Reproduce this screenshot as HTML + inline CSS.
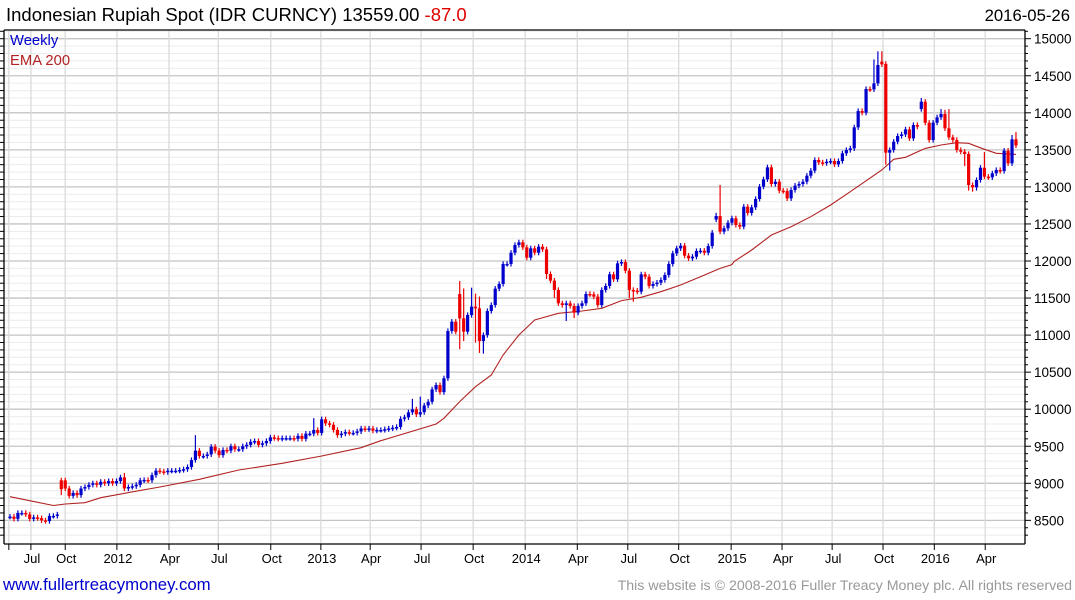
<!DOCTYPE html>
<html><head><meta charset="utf-8">
<style>
body{margin:0;background:#fff;width:1075px;height:600px;overflow:hidden;font-family:"Liberation Sans",sans-serif}
svg{display:block}
</style></head>
<body>
<svg id="chart" width="1075" height="600" xmlns="http://www.w3.org/2000/svg">
<text x="6" y="21" font-size="18.5" fill="#000">Indonesian Rupiah Spot (IDR CURNCY) 13559.00 <tspan fill="#e00000">-87.0</tspan></text>
<text x="1070" y="21" font-size="16.7" fill="#000" text-anchor="end">2016-05-26</text>
<g id="grid"></g>
<g id="marks"></g>
<g id="axes"></g>
<text x="10" y="45" font-size="14.8" fill="#0000cc">Weekly</text>
<text x="10" y="65" font-size="14.8" fill="#b22222">EMA 200</text>
<text x="3" y="590" font-size="16.8" fill="#0000cc">www.fullertreacymoney.com</text>
<text x="1072" y="590" font-size="14.2" fill="#999" text-anchor="end">This website is © 2008-2016 Fuller Treacy Money plc. All rights reserved</text>
</svg>
<script>
const closes=[8550,8520,8600,8600,8580,8520,8540,8530,8500,8490,8560,8560,8580,
8920,8930,8830,8870,8840,8930,8950,8980,9000,8980,9020,9000,9030,9000,9030,9080,8930,8950,8960,8980,9040,9045,9040,9110,9170,9160,9150,9170,9170,9170,9180,9190,9220,9314,9440,9368,9368,9390,9494,9440,9380,9450,9440,9500,9460,9460,9500,9520,9560,9570,9520,9540,9570,9620,9610,9600,9610,9610,9610,9600,9640,9600,9670,9670,9720,9680,9863,9809,9790,9720,9650,9670,9690,9680,9680,9700,9740,9730,9740,9710,9720,9720,9730,9740,9750,9760,9870,9890,9958,9998,9930,9960,10050,10100,10268,10326,
10230,10417,11055,11181,11046,11226,11046,11271,11384,11361,10919,11000,11325,11406,11627,11690,11960,11960,12112,12216,12252,12184,12045,12171,12112,12193,12157,11824,11735,11609,11429,11406,11429,11393,11303,11393,11429,11555,11550,11519,11406,11609,11663,11820,11753,11968,11986,11869,11609,11600,11586,11820,11788,11663,11690,11708,11744,11811,11960,12103,12171,12207,12072,12036,12058,12135,12139,12112,12202,12382,12607,12396,12441,12517,12576,12486,12463,12733,12648,12724,12837,13003,13102,13264,13039,13070,12949,12944,12845,12958,13017,13039,13070,13151,13219,13363,13331,13320,13340,13349,13304,13349,13453,13498,13520,13804,14024,14001,14321,14316,14397,14645,14654,13462,13498,13610,13687,13709,13776,13655,13835,13813,14150,13866,13633,13867,13939,13984,13790,13669,13633,13498,13475,13444,13025,12994,13093,13259,13138,13129,13183,13228,13214,13489,13318,13642,13559];
const openIdx=[13,14,114,179,221,222,231];
const openVals=[9040,9040,11555,12560,14690,14660,14050];
const highIdx=[13,29,47,77,79,102,104,114,115,117,118,119,180,179,219,220,221,231,232,236,237,238,247,254,255];
const highVals=[9060,9140,9650,9880,9900,10140,10170,11730,11630,11640,11560,11520,13026,12650,14720,14830,14830,14200,14180,14050,14040,14050,13470,13700,13740];
const lowIdx=[13,29,114,115,118,119,120,136,138,141,143,157,158,222,223,242,243,244,245];
const lowVals=[8840,8920,10810,10920,10900,10760,10750,11757,11500,11190,11230,11500,11450,13300,13220,13280,12950,12935,12950];
const emaWeeks=[0,5,11,14,19,23,30,38,48,58,69,79,89,94,108,110,114,118,122,125,129,133,136,139,145,150,155,160,165,170,175,180,183,183.5,188,193,198,203,208,213,221,224,227,232,236,240,243,247,250,255];
const emaVals=[8819,8765,8700,8720,8738,8806,8874,8950,9054,9180,9270,9368,9481,9575,9800,9877,10102,10304,10462,10732,11001,11204,11249,11294,11325,11361,11465,11510,11586,11676,11788,11900,11950,11991,12148,12351,12463,12598,12756,12935,13228,13372,13399,13520,13565,13597,13588,13507,13453,13439];
const yTicks=[8500,9000,9500,10000,10500,11000,11500,12000,12500,13000,13500,14000,14500,15000];
const xTickLabels=["Jul","Oct","2012","Apr","Jul","Oct","2013","Apr","Jul","Oct","2014","Apr","Jul","Oct","2015","Apr","Jul","Oct","2016","Apr"];
const xTickWeeks=[5.3,14,27.1,40.3,52.8,66.1,78.8,91.3,104.2,117.4,130.6,143.8,156.6,169.5,182.8,195.7,208.4,221.3,234.3,247.2];

const NS="http://www.w3.org/2000/svg";
const L=4,R=1025,T=30,B=544;
const x=i=>10+i*3.945;
const y=v=>38.7+(15000-v)*0.0741;
function mk(tag,attrs,parent){const e=document.createElementNS(NS,tag);for(const k in attrs)e.setAttribute(k,attrs[k]);parent.appendChild(e);return e;}
const grid=document.getElementById('grid'),marks=document.getElementById('marks'),axes=document.getElementById('axes');
for(let v=8300;v<=15100;v+=100){const yy=y(v);if(yy<T||yy>B)continue;
 const major=v%500===0;
 const ln=mk('line',{x1:L,x2:R,y1:yy,y2:yy,stroke:major?'#c4c4c4':'#ececec','stroke-width':major?1.3:1},grid);
 
 
 const tk=mk('line',{x1:R,x2:R+(major?6:3),y1:yy,y2:yy,stroke:'#000'},axes);
 
 
 const tl=mk('line',{x1:0,x2:L,y1:yy,y2:yy,stroke:'#000'},axes);
 
 
}
const vg=[-0.3].concat(xTickWeeks);
vg.forEach(w=>{const xx=x(w);
 const ln=mk('line',{x1:xx,x2:xx,y1:T,y2:B,stroke:'#dadada','stroke-width':1.3},grid);
 
 
 const tk=mk('line',{x1:xx,x2:xx,y1:B,y2:B+6,stroke:'#000'},axes);
 
 
});
xTickLabels.forEach((s,i)=>{const t=mk('text',{x:x(xTickWeeks[i])+1,y:563,'font-size':13,'text-anchor':'middle',fill:'#000'},axes);t.textContent=s;
 
 });
yTicks.forEach(v=>{const t=mk('text',{x:1034,y:y(v)+5,'font-size':13.5,fill:'#000'},axes);t.textContent=v;
 
 });
[[L,T,R,T],[L,T,L,B],[R,T,R,B],[L,B,R,B]].forEach(a=>{const l=mk('line',{x1:a[0],y1:a[1],x2:a[2],y2:a[3],stroke:'#000','stroke-width':1.3},axes);
 
 });
let d='';emaWeeks.forEach((w,i)=>{d+=(i?'L':'M')+x(w).toFixed(1)+' '+y(emaVals[i]).toFixed(1);});
const ema=mk('path',{d:d,fill:'none',stroke:'#b22222','stroke-width':1.1},marks);


closes.forEach((c,i)=>{
 let o=i===0?c:closes[i-1];
 const oj=openIdx.indexOf(i);if(oj>=0)o=openVals[oj];
 const up=c>=o;const col=up?'#0000cc':'#ee0000';
 let hi=Math.max(o,c)+35,lo=Math.min(o,c)-35;
 const hj=highIdx.indexOf(i);if(hj>=0)hi=Math.max(hi,highVals[hj]);
 const lj=lowIdx.indexOf(i);if(lj>=0)lo=Math.min(lo,lowVals[lj]);
 const xx=x(i);
 const w=mk('line',{x1:xx,x2:xx,y1:y(hi),y2:y(lo),stroke:col,'stroke-width':1.2},marks);
 
 
 const top=y(Math.max(o,c)),h=Math.max(1.5,y(Math.min(o,c))-top);
 const b=mk('rect',{x:xx-1.6,y:top,width:3.2,height:h,fill:col},marks);
 
 
});
</script>
</body></html>
